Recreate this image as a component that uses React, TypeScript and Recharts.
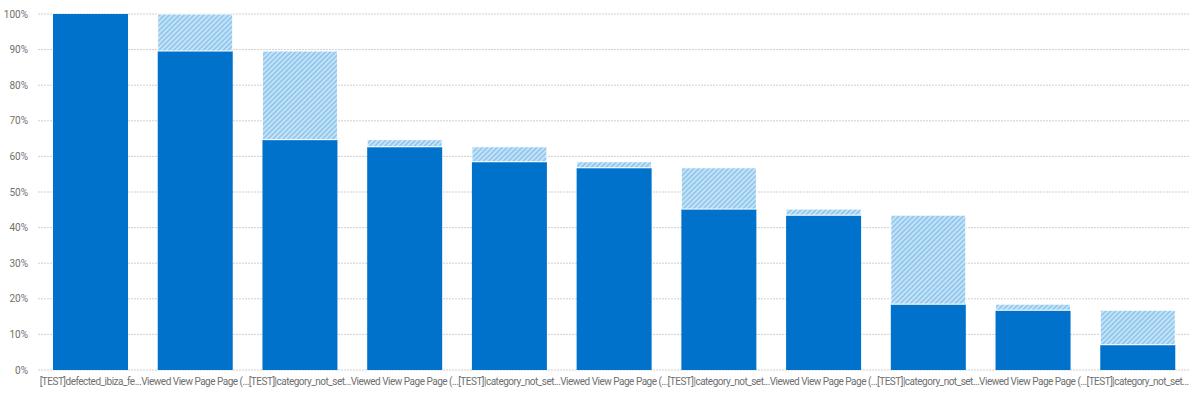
import React from 'react';
import { BarChart, Bar, XAxis, YAxis, CartesianGrid } from 'recharts';

// step labels, truncated as in the source
const stepLabels = [
  '[TEST]defected_ibiza_fe...',
  'Viewed View Page Page (...',
  '[TEST]|category_not_set...',
  'Viewed View Page Page (...',
  '[TEST]|category_not_set...',
  'Viewed View Page Page (...',
  '[TEST]|category_not_set...',
  'Viewed View Page Page (...',
  '[TEST]|category_not_set...',
  'Viewed View Page Page (...',
  '[TEST]|category_not_set...',
];

// share of users reaching each step (%)
const reached = [100, 89.6, 64.7, 62.7, 58.5, 56.8, 45.2, 43.5, 18.5, 16.8, 7.1];

// drop-off from the previous step (%)
const dropOff = [0, 10.4, 24.9, 2.0, 4.2, 1.7, 11.6, 1.7, 25.0, 1.7, 9.7];

const yTicks = [0, 10, 20, 30, 40, 50, 60, 70, 80, 90, 100];

const data = stepLabels.map((name, i) => ({
  idx: i,
  name,
  reached: reached[i],
  dropOff: dropOff[i],
}));

const FONT = 'Roboto, "Noto Sans", sans-serif';

const App: React.FC = () => {
  return (
    <div style={{ position: 'absolute', left: 0, top: 0, width: 1200, height: 397, background: '#fff' }}>
      <BarChart
        width={1200}
        height={397}
        data={data}
        margin={{ top: 14, right: 10, bottom: 0, left: 0 }}
        barSize={75}
      >
        <defs>
          <pattern
            id="dropHatch"
            patternUnits="userSpaceOnUse"
            width="3.5"
            height="3.5"
            patternTransform="rotate(45)"
          >
            <rect x="0" y="0" width="3.5" height="3.5" fill="#c6e3f7" />
            <rect x="0" y="0" width="1.75" height="3.5" fill="#92c8ee" />
          </pattern>
        </defs>
        <CartesianGrid vertical={false} stroke="#cfcfcf" strokeDasharray="2 1" />
        <XAxis
          dataKey="idx"
          tickFormatter={(i: number) => stepLabels[i]}
          tick={{ fill: '#6f6f6f', fontSize: 10, fontFamily: FONT, letterSpacing: -0.5 }}
          tickLine={false}
          axisLine={false}
          tickSize={0}
          tickMargin={8}
          interval={0}
          height={27}
        />
        <YAxis
          domain={[0, 100]}
          ticks={yTicks}
          tickFormatter={(v: number) => `${v}%`}
          tick={{ fill: '#6f6f6f', fontSize: 10, fontFamily: FONT }}
          tickLine={false}
          axisLine={false}
          tickSize={0}
          tickMargin={10}
          width={38}
        />
        <Bar dataKey="reached" stackId="f" fill="#0072cc" isAnimationActive={false} />
        <Bar
          dataKey="dropOff"
          stackId="f"
          fill="url(#dropHatch)"
          stroke="#ffffff"
          strokeWidth={1}
          isAnimationActive={false}
        />
      </BarChart>
    </div>
  );
};

export default App;
